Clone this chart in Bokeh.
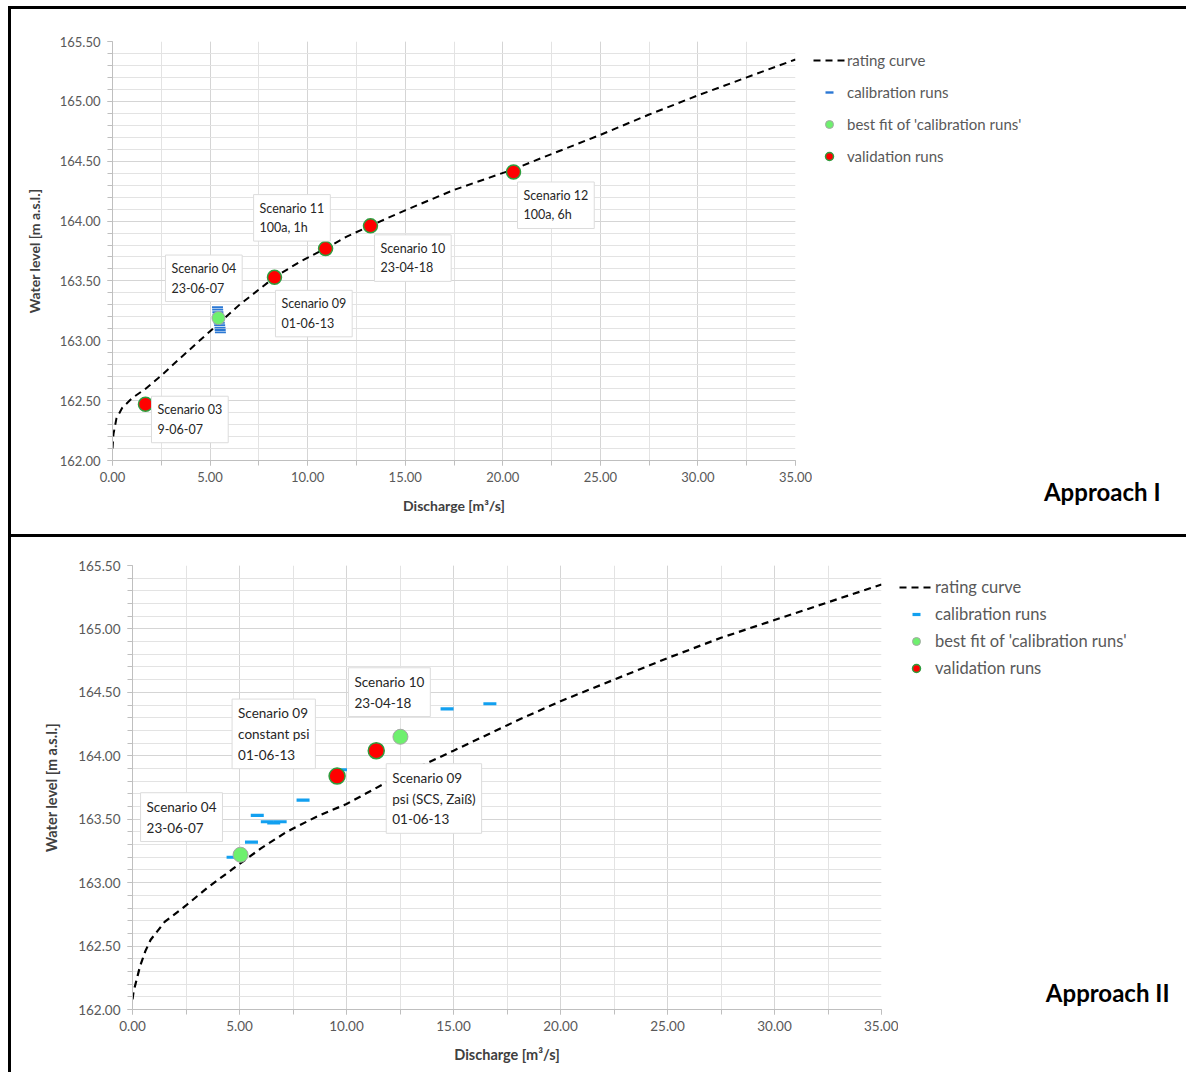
from bokeh.plotting import figure
from bokeh.models import (Legend, LegendItem, Label, SingleIntervalTicker, Title,
                          PrintfTickFormatter, Div, Spacer, Range1d)
from bokeh.layouts import column, row
from bokeh.embed import file_html
from bokeh.resources import INLINE

FONT = "Lato"

# ---------------- Approach I data ----------------
curve_top_q = [0.00, 0.05, 0.20, 0.50, 1.00, 1.70, 2.50, 3.50, 5.00, 6.50, 8.30, 9.60,
               10.90, 12.00, 13.20, 15.00, 17.50, 20.50, 22.50, 25.00, 27.50, 30.00, 32.50, 35.00]
curve_top_h = [162.10, 162.22, 162.35, 162.44, 162.52, 162.60, 162.71, 162.86, 163.08, 163.30,
               163.53, 163.66, 163.77, 163.87, 163.96, 164.09, 164.26, 164.43, 164.56, 164.72,
               164.89, 165.05, 165.20, 165.35]
cal_top_q = [5.38, 5.39, 5.40, 5.41, 5.43, 5.45, 5.47, 5.49, 5.51, 5.52, 5.53]
cal_top_h = [163.28, 163.26, 163.24, 163.22, 163.19, 163.17, 163.15, 163.13, 163.11, 163.09, 163.07]
best_top_q = [5.43]
best_top_h = [163.19]
val_top_q = [1.69, 8.30, 10.92, 13.22, 20.55]
val_top_h = [162.47, 163.53, 163.77, 163.96, 164.41]
labels_top = ["Scenario 03\n9-06-07", "Scenario 09\n01-06-13", "Scenario 11\n100a, 1h",
              "Scenario 10\n23-04-18", "Scenario 12\n100a, 6h"]
label_04_top = "Scenario 04\n23-06-07"

# ---------------- Approach II data ----------------
curve_bot_q = [0.00, 0.05, 0.17, 0.35, 0.60, 0.85, 1.50, 2.50, 3.50, 4.70, 6.00, 7.20, 8.60,
               10.00, 12.20, 15.00, 18.00, 20.00, 22.50, 25.00, 27.50, 30.00, 32.50, 35.00]
curve_bot_h = [162.08, 162.14, 162.22, 162.34, 162.46, 162.55, 162.69, 162.82, 162.96, 163.11,
               163.27, 163.40, 163.52, 163.62, 163.82, 164.04, 164.28, 164.43, 164.60, 164.77,
               164.93, 165.07, 165.21, 165.35]
cal_bot_q = [4.70, 5.56, 5.83, 6.30, 6.60, 6.90, 7.97, 9.72, 13.58, 14.70, 16.70]
cal_bot_h = [163.20, 163.32, 163.53, 163.48, 163.47, 163.48, 163.65, 163.89, 164.34, 164.37, 164.41]
best_bot_q = [5.05, 12.52]
best_bot_h = [163.22, 164.15]
val_bot_q = [9.56, 11.39]
val_bot_h = [163.84, 164.04]
labels_bot = ["Scenario 04\n23-06-07", "Scenario 09\nconstant psi\n01-06-13",
              "Scenario 10\n23-04-18", "Scenario 09\npsi (SCS, Zaiß)\n01-06-13"]

legend_labels = ["rating curve", "calibration runs", "best fit of 'calibration runs'", "validation runs"]

CURVE_STYLE = dict(line_color="black", line_dash="7 5")
VAL_STYLE = dict(marker="circle", fill_color="#ff0000", line_color="#2e9e3e", line_width=1.5)
BEST_STYLE = dict(marker="circle", fill_color="#6ef06e", line_color="#a6a6a6", line_width=1)


def base_fig(w, h, bl, br, bt, bb, tick_size, title_size, ylab_standoff, xlab_standoff):
    p = figure(width=w, height=h, x_range=(0, 35), y_range=(162, 165.5),
               output_backend="svg", toolbar_location=None,
               min_border_left=bl, min_border_right=br, min_border_top=bt, min_border_bottom=bb)
    p.outline_line_color = None
    p.background_fill_color = "white"
    p.border_fill_color = "white"
    p.xaxis.ticker = SingleIntervalTicker(interval=5, num_minor_ticks=2)
    p.yaxis.ticker = SingleIntervalTicker(interval=0.5, num_minor_ticks=5)
    p.xgrid.ticker = p.xaxis.ticker
    p.ygrid.ticker = p.yaxis.ticker
    for g in (p.xgrid, p.ygrid):
        g.grid_line_color = "#d5d5d5"
        g.minor_grid_line_color = "#e3e3e3"
        g.grid_line_width = 1
    for ax in (p.xaxis, p.yaxis):
        ax.formatter = PrintfTickFormatter(format="%.2f")
        ax.axis_line_color = "#bfbfbf"
        ax.major_tick_line_color = "#bfbfbf"
        ax.minor_tick_line_color = "#bfbfbf"
        ax.major_tick_in = 0
        ax.major_tick_out = 5
        ax.minor_tick_in = 0
        ax.minor_tick_out = 5
        ax.major_label_text_font = FONT
        ax.major_label_text_font_size = tick_size
        ax.major_label_text_color = "#595959"
        ax.axis_label_text_font = FONT
        ax.axis_label_text_font_style = "bold"
        ax.axis_label_text_font_size = title_size
        ax.axis_label_text_color = "#404040"
    p.xaxis.axis_label = "Discharge [m³/s]"
    p.yaxis.axis_label = "Water level [m a.s.l.]"
    p.xaxis.major_label_standoff = 6
    p.yaxis.major_label_standoff = 7
    p.yaxis.axis_label_standoff = ylab_standoff
    p.xaxis.axis_label_standoff = xlab_standoff
    return p


def side_fig(w, h):
    # ranges chosen so that the series plotted here (only for the legend) stay out of view
    s = figure(width=w, height=h, x_range=Range1d(-2, -1), y_range=Range1d(0, 1),
               x_axis_type=None, y_axis_type=None,
               output_backend="svg", toolbar_location=None,
               min_border_left=0, min_border_right=0, min_border_top=0, min_border_bottom=0)
    s.grid.visible = False
    s.outline_line_color = None
    s.background_fill_color = "white"
    s.border_fill_color = "white"
    return s


def add_box_label(p, txt, x, y, dx, dy, size):
    p.add_layout(Label(x=x, y=y, x_offset=dx - 6, y_offset=dy + 7, text=txt,
                       text_align="left", text_baseline="top",
                       text_font=FONT, text_font_size=size, text_color="#262626",
                       text_line_height=1.3,
                       background_fill_color="white", border_line_color="#dcdcdc",
                       border_line_width=1, padding=6))


def add_legend(s, cq, ch, calq, calh, bq, bh, vq, vh, cal_color, cal_size, cal_lw,
               best_size, val_size, loc, spacing, gw, fsize):
    r0 = s.line(cq, ch, line_width=2, **CURVE_STYLE)
    r1 = s.scatter(calq, calh, marker="dash", size=cal_size, line_color=cal_color, line_width=cal_lw)
    r2 = s.scatter(bq, bh, size=best_size, **BEST_STYLE)
    r3 = s.scatter(vq, vh, size=val_size, **VAL_STYLE)
    leg = Legend(items=[LegendItem(label=lab, renderers=[r]) for lab, r in
                        zip(legend_labels, [r0, r1, r2, r3])],
                 location=loc, padding=0, margin=0, spacing=spacing,
                 glyph_width=gw, glyph_height=20, label_height=20, label_standoff=2,
                 border_line_color=None, background_fill_alpha=0,
                 label_text_font=FONT, label_text_font_size=fsize, label_text_color="#595959")
    s.add_layout(leg)


# ---------------- Panel 1 ----------------
p1 = base_fig(801, 525, 101, 17, 32, 74, "13px", "14px", 14, 12)
p1.line(curve_top_q, curve_top_h, line_width=2, **CURVE_STYLE)
p1.scatter(cal_top_q, cal_top_h, marker="dash", size=11, line_color="#2b78d4", line_width=1.8)
p1.scatter(best_top_q, best_top_h, size=13, **BEST_STYLE)
p1.scatter(val_top_q, val_top_h, size=14, **VAL_STYLE)

offs_top = [(12, 1), (7, -20), (-66, 47), (10, -16), (10, -17)]
for txt, q, h, (dx, dy) in zip(labels_top, val_top_q, val_top_h, offs_top):
    add_box_label(p1, txt, q, h, dx, dy, "12.5px")
add_box_label(p1, label_04_top, best_top_q[0], best_top_h[0], -47, 56, "12.5px")

s1 = side_fig(374, 525)
add_legend(s1, curve_top_q, curve_top_h, cal_top_q, cal_top_h, best_top_q, best_top_h,
           val_top_q, val_top_h, "#2b78d4", 11, 2.4, 13, 14, (1, 294), 12, 32, "15px")
s1.add_layout(Title(text="Approach I", align="right", offset=26, standoff=29,
                    text_font=FONT, text_font_style="bold", text_font_size="24px",
                    text_color="black"), "below")

# ---------------- Panel 2 ----------------
p2 = base_fig(887, 535, 121, 17, 28, 63, "13.5px", "14.5px", 15, 12)
p2.line(curve_bot_q, curve_bot_h, line_width=2.2, **CURVE_STYLE)
p2.scatter(cal_bot_q, cal_bot_h, marker="dash", size=13, line_color="#12a0f0", line_width=3.2)
p2.scatter(best_bot_q, best_bot_h, size=15, **BEST_STYLE)
p2.scatter(val_bot_q, val_bot_h, size=16, **VAL_STYLE)

anchors_bot = [(best_bot_q[0], best_bot_h[0], -94, 55),
               (val_bot_q[0], val_bot_h[0], -99, 70),
               (best_bot_q[1], best_bot_h[1], -46, 62),
               (val_bot_q[1], val_bot_h[1], 16, -20)]
for txt, (q, h, dx, dy) in zip(labels_bot, anchors_bot):
    add_box_label(p2, txt, q, h, dx, dy, "13.5px")

s2 = side_fig(288, 535)
add_legend(s2, curve_bot_q, curve_bot_h, cal_bot_q, cal_bot_h, best_bot_q, best_bot_h,
           val_bot_q, val_bot_h, "#12a0f0", 13, 3.2, 15, 16, (1, 331), 7, 34, "16.5px")
s2.add_layout(Label(x=271, y=17, x_units="screen", y_units="screen", text="Approach II",
                    text_align="right", text_baseline="alphabetic", text_font=FONT,
                    text_font_style="bold", text_font_size="24px", text_color="black"))

# ---------------- frame lines and layout ----------------
Z = (0, 0, 0, 0)
top_line = Div(width=1178, height=3, margin=Z, styles={"background-color": "black"})
left_line = Div(width=3, height=1063, margin=Z, styles={"background-color": "black"})
mid_line = Div(width=1175, height=3, margin=Z, styles={"background-color": "black"})

inner = column(top_line, row(left_line, column(row(p1, s1), mid_line, row(p2, s2))))
layout = column(Spacer(width=1186, height=6, margin=Z), row(Spacer(width=8, height=10, margin=Z), inner))

open("out.html", "w").write(file_html(layout, INLINE))
